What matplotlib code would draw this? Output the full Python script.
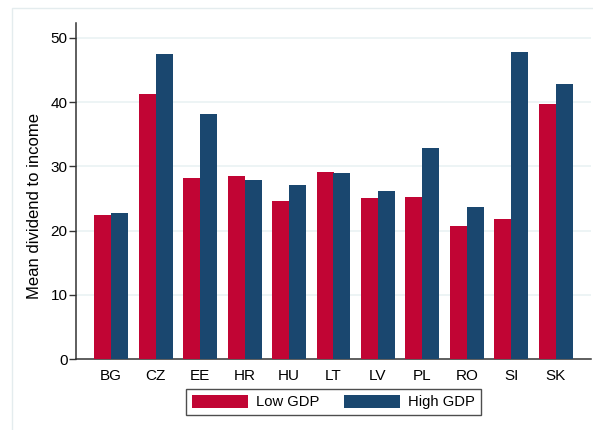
import matplotlib.pyplot as plt
import numpy as np
from matplotlib.patches import Rectangle

# Mean dividend-to-income ratio by country and GDP group
countries = ["BG", "CZ", "EE", "HR", "HU", "LT", "LV", "PL", "RO", "SI", "SK"]
low_gdp = [22.4, 41.3, 28.2, 28.5, 24.6, 29.1, 25.1, 25.3, 20.7, 21.8, 39.7]
high_gdp = [22.8, 47.5, 38.1, 27.9, 27.1, 29.0, 26.1, 32.9, 23.7, 47.8, 42.8]
y_ticks = [0, 10, 20, 30, 40, 50]

RED = "#c10534"
NAVY = "#1a476f"
GRID = "#eaf2f3"
SPINE = "#333333"

plt.rcParams["font.family"] = ["Liberation Sans", "DejaVu Sans"]

fig = plt.figure(figsize=(5.93, 4.30), dpi=100)
fig.patch.set_facecolor("white")

# light outer frame of the graph region
fig.patches.append(
    Rectangle((12 / 593, -0.1), 1.1, 0.1 + 1 - 8 / 430, transform=fig.transFigure,
              fill=False, edgecolor="#e4ecee", linewidth=1.0, zorder=0)
)

ax = fig.add_axes([76 / 593, 70.7 / 430, 515 / 593, 336 / 430])

x = np.arange(len(countries))
w = 0.382
ax.bar(x - w / 2, low_gdp, width=w, color=RED, label="Low GDP", zorder=3)
ax.bar(x + w / 2, high_gdp, width=w, color=NAVY, label="High GDP", zorder=3)

ax.set_xlim(-0.787, len(countries) - 1 + 0.787)
ax.set_ylim(0, 52.25)
ax.set_yticks(y_ticks)
ax.set_xticks(x)
ax.set_xticklabels(countries)
ax.tick_params(axis="x", length=0, pad=7, labelsize=11)
ax.tick_params(axis="y", length=5.2, width=1.0, color=SPINE, pad=0.8, labelsize=11)

for t in y_ticks[1:]:
    ax.axhline(t, color=GRID, linewidth=1.2, zorder=1)

for side in ["top", "right"]:
    ax.spines[side].set_visible(False)
for side in ["left", "bottom"]:
    ax.spines[side].set_color(SPINE)
    ax.spines[side].set_linewidth(1.1)

ax.set_ylabel("Mean dividend to income", fontsize=12)
ax.yaxis.set_label_coords(-(76 - 35) / 515, 0.456)
ax.yaxis.label.set_va("center")

leg = fig.legend(
    loc="center", bbox_to_anchor=(333.5 / 593, 1 - 402 / 430), ncol=2,
    fontsize=10.6, frameon=True, fancybox=False, handlelength=3.8,
    handleheight=1.0, columnspacing=1.7, handletextpad=0.55,
    borderpad=0.4, borderaxespad=0,
)
leg.get_frame().set_edgecolor("#222222")
leg.get_frame().set_linewidth(1.0)

fig.savefig("out.png", dpi=100)
